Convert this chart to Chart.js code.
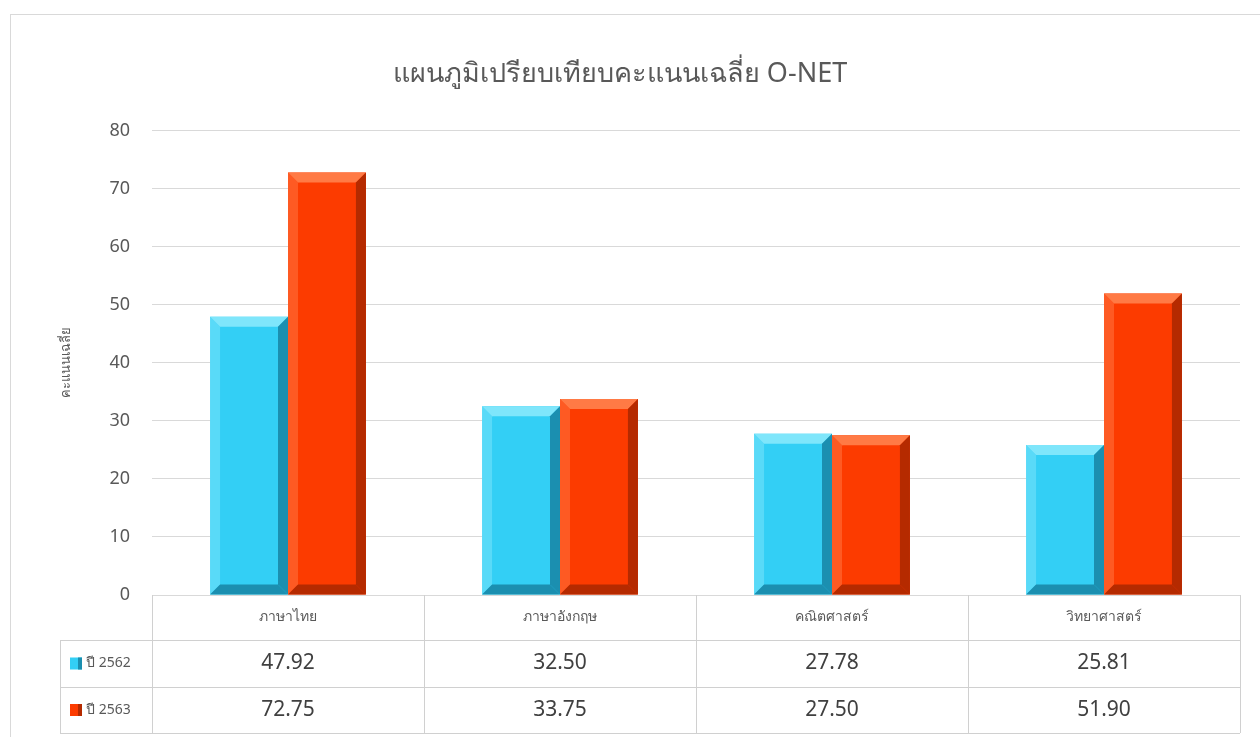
<!DOCTYPE html>
<html>
<head>
<meta charset="utf-8">
<script src="https://cdn.jsdelivr.net/npm/chart.js@4/dist/chart.umd.min.js"></script>
<style>
  html, body { margin: 0; padding: 0; background: #fff; }
  #wrap { position: relative; width: 1260px; height: 737px; }
  #frame { position: absolute; left: 10px; top: 14px; width: 1260px; height: 740px; border: 1px solid #d9d9d9; box-sizing: border-box; }
  #myChart { position: absolute; left: 0; top: 0; }
</style>
</head>
<body>
<div id="wrap">
  <div id="frame"></div>
  <canvas id="myChart" width="1260" height="737"></canvas>
</div>
<script>
// data
let subjects = ["ภาษาไทย", "ภาษาอังกฤษ", "คณิตศาสตร์", "วิทยาศาสตร์"];
let seriesNames = ["ปี 2562", "ปี 2563"];
let score2562 = [47.92, 32.5, 27.78, 25.81];
let score2563 = [72.75, 33.75, 27.5, 51.9];
let yTicks = [0, 10, 20, 30, 40, 50, 60, 70, 80];

let mainColors = ["#33cff5", "#fc3b00"];
let lightColors = ["#7fe6fb", "#ff7a45"];
let darkColors = ["#1b8fb0", "#b52a00"];

let fontFam = "'Noto Sans', 'DejaVu Sans', sans-serif";

// bevel look on each bar, using the element positions from chart.js
const bevelPlugin = {
  id: "bevel",
  afterDatasetsDraw(chart) {
    let ctx = chart.ctx;
    chart.data.datasets.forEach(function (ds, di) {
      let meta = chart.getDatasetMeta(di);
      meta.data.forEach(function (bar) {
        let l = bar.x - bar.width / 2;
        let r = bar.x + bar.width / 2;
        let t = bar.y;
        let b = bar.base;
        let e = 10;
        ctx.save();
        // top bevel
        ctx.fillStyle = lightColors[di];
        ctx.beginPath();
        ctx.moveTo(l, t); ctx.lineTo(r, t); ctx.lineTo(r - e, t + e); ctx.lineTo(l + e, t + e);
        ctx.closePath(); ctx.fill();
        // left bevel
        ctx.globalAlpha = 0.5;
        ctx.beginPath();
        ctx.moveTo(l, t); ctx.lineTo(l + e, t + e); ctx.lineTo(l + e, b - e); ctx.lineTo(l, b);
        ctx.closePath(); ctx.fill();
        ctx.globalAlpha = 1;
        // right bevel
        ctx.fillStyle = darkColors[di];
        ctx.beginPath();
        ctx.moveTo(r, t); ctx.lineTo(r, b); ctx.lineTo(r - e, b - e); ctx.lineTo(r - e, t + e);
        ctx.closePath(); ctx.fill();
        // bottom bevel
        ctx.beginPath();
        ctx.moveTo(l, b); ctx.lineTo(r, b); ctx.lineTo(r - e, b - e); ctx.lineTo(l + e, b - e);
        ctx.closePath(); ctx.fill();
        ctx.restore();
      });
    });
  },
};

// data table under the plot
const tablePlugin = {
  id: "datatable",
  afterDraw(chart) {
    let ctx = chart.ctx;
    let xs = chart.scales.x;
    let area = chart.chartArea;
    let top = area.bottom;
    let rowH = [45, 47, 46];
    let labelLeft = 60;
    let colW = (area.right - area.left) / subjects.length;
    let y1 = top + rowH[0];
    let y2 = y1 + rowH[1];
    let y3 = y2 + rowH[2];
    ctx.save();
    ctx.strokeStyle = "#d0d0d0";
    ctx.lineWidth = 1;
    ctx.beginPath();
    // vertical lines
    for (let i = 0; i <= subjects.length; i++) {
      let x = Math.round(area.left + i * colW) + 0.5;
      ctx.moveTo(x, top); ctx.lineTo(x, y3);
    }
    ctx.moveTo(labelLeft + 0.5, y1); ctx.lineTo(labelLeft + 0.5, y3);
    // horizontal lines
    ctx.moveTo(labelLeft, Math.round(y1) + 0.5); ctx.lineTo(area.right, Math.round(y1) + 0.5);
    ctx.moveTo(labelLeft, Math.round(y2) + 0.5); ctx.lineTo(area.right, Math.round(y2) + 0.5);
    ctx.moveTo(labelLeft, Math.round(y3) + 0.5); ctx.lineTo(area.right, Math.round(y3) + 0.5);
    ctx.stroke();

    ctx.textAlign = "center";
    ctx.textBaseline = "middle";
    ctx.fillStyle = "#595959";
    ctx.font = "14px " + fontFam;
    subjects.forEach(function (s, i) {
      ctx.fillText(s, xs.getPixelForTick(i), top + rowH[0] / 2);
    });
    let rows = [score2562, score2563];
    rows.forEach(function (vals, r) {
      let cy = r == 0 ? (y1 + y2) / 2 : (y2 + y3) / 2;
      ctx.fillStyle = "#404040";
      ctx.font = "21px " + fontFam;
      ctx.textAlign = "center";
      vals.forEach(function (v, i) {
        ctx.fillText(v.toFixed(2), xs.getPixelForTick(i), cy);
      });
      // legend key
      let kx = 70, ky = cy - 6;
      ctx.fillStyle = mainColors[r];
      ctx.fillRect(kx, ky, 12, 12);
      ctx.fillStyle = darkColors[r];
      ctx.fillRect(kx + 8, ky, 4, 12);
      ctx.fillStyle = "#595959";
      ctx.font = "14px " + fontFam;
      ctx.textAlign = "left";
      ctx.fillText(seriesNames[r], 86, cy);
    });
    ctx.restore();
  },
};

let mychart = document.getElementById("myChart").getContext("2d");
let barChart = new Chart(mychart, {
  type: "bar",
  data: {
    labels: subjects,
    datasets: [
      { label: seriesNames[0], data: score2562, backgroundColor: mainColors[0] },
      { label: seriesNames[1], data: score2563, backgroundColor: mainColors[1] },
    ],
  },
  options: {
    responsive: false,
    animation: false,
    events: [],
    layout: { padding: { left: 0, right: 20, top: 0, bottom: 134 } },
    datasets: { bar: { barPercentage: 1, categoryPercentage: 0.573 } },
    plugins: {
      legend: { display: false },
      tooltip: { enabled: false },
      title: {
        display: true,
        text: "แผนภูมิเปรียบเทียบคะแนนเฉลี่ย O-NET",
        color: "#595959",
        font: { family: fontFam, size: 27, weight: "normal" },
        padding: { top: 58, bottom: 40 },
      },
    },
    scales: {
      x: {
        grid: { display: false },
        border: { display: false },
        ticks: { display: false },
      },
      y: {
        min: 0,
        max: 80,
        afterBuildTicks(axis) {
          axis.ticks = yTicks.map((v) => ({ value: v }));
        },
        afterFit(axis) {
          axis.width = 152;
        },
        grid: { color: "#d9d9d9", drawTicks: false },
        border: { display: false },
        ticks: { color: "#595959", padding: 22, font: { family: fontFam, size: 18 } },
        title: {
          display: true,
          text: "คะแนนเฉลี่ย",
          color: "#595959",
          font: { family: fontFam, size: 13 },
          padding: { top: 58, bottom: 0 },
        },
      },
    },
  },
  plugins: [bevelPlugin, tablePlugin],
});
</script>
</body>
</html>
